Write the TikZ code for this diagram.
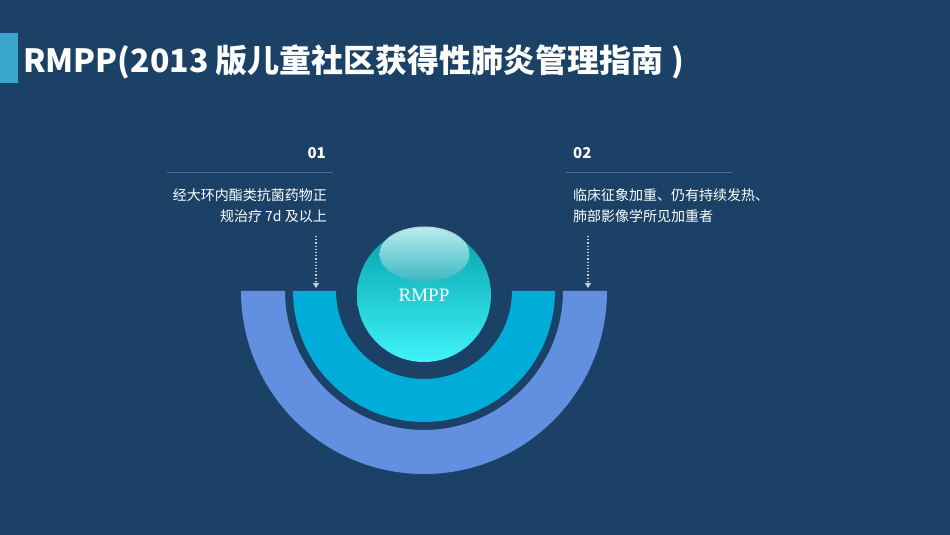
\documentclass[tikz,border=0pt]{standalone}
\usepackage{fontspec}
\setmainfont{Noto Sans CJK SC}
\newfontfamily\ballfont{Liberation Serif}
\usetikzlibrary{arrows.meta,positioning}
\definecolor{BgBlue}{RGB}{27,66,102}
\definecolor{BarBlue}{RGB}{58,168,204}
\definecolor{OuterRing}{RGB}{99,143,225}
\definecolor{InnerRing}{RGB}{0,172,216}
\definecolor{RuleGray}{RGB}{80,112,146}
\definecolor{ArrowGray}{RGB}{200,210,220}
\definecolor{BallTop}{RGB}{4,160,170}
\definecolor{BallBottom}{RGB}{64,244,250}

\begin{document}
\begin{tikzpicture}[x=1pt,y=1pt,
  num/.style={font=\fontsize{15}{18}\selectfont\bfseries,text=white,inner sep=0pt},
  note/.style={font=\fontsize{14}{21}\selectfont,text=white,inner sep=0pt},
  rule/.style={draw=RuleGray,line width=0.8pt},
  down/.style={-{Triangle[width=6pt,length=5pt]},dotted,line width=1.2pt,ArrowGray},
]
\fill[BgBlue] (0,0) rectangle (950,535);
\useasboundingbox (0,0) rectangle (950,535);
\fill[BarBlue] (0,452) rectangle (18,502);
\node[anchor=west,inner sep=0pt,text=white,font=\fontsize{32}{38}\selectfont\bfseries] (title) at (23,473)
  {RMPP(2013 版儿童社区获得性肺炎管理指南 )};
% rings
\fill[OuterRing] (241,244) arc[start angle=180,end angle=360,radius=183]
  -- (563,244) arc[start angle=0,end angle=-180,radius=139] -- cycle;
\fill[InnerRing] (293,244) arc[start angle=180,end angle=360,radius=131]
  -- (512,244) arc[start angle=0,end angle=-180,radius=88] -- cycle;
% ball
\node[circle,minimum size=134pt,inner sep=0pt,top color=BallTop,bottom color=BallBottom,
      text=white,font=\ballfont\fontsize{19}{22}\selectfont] (ball) at (424,240) {\raisebox{-6pt}{RMPP}};
\shade[top color=white!92!cyan,bottom color=BallTop!75!white,opacity=0.8]
  (424.5,281) ellipse[x radius=45,y radius=27.5];
% left item
\node[num,anchor=east] (n1) at (326,382) {01};
\draw[rule] (167,363) coordinate (r1a) -- (333,363) coordinate (r1b);
\node[note,anchor=east,align=right] (t1) at (327,329.5) {经大环内酯类抗菌药物正\\规治疗 7d 及以上};
\coordinate (a1s) at (316,299);
\coordinate (a1e) at (316,247);
\draw[down] (a1s) -- (a1e);
% right item
\node[num,anchor=west] (n2) at (573,382) {02};
\draw[rule] (566,363) coordinate (r2a) -- (732,363) coordinate (r2b);
\node[note,anchor=west,align=left] (t2) at (573,329.5) {临床征象加重、仍有持续发热、\\肺部影像学所见加重者};
\coordinate (a2s) at (588,299);
\coordinate (a2e) at (588,247);
\draw[down] (a2s) -- (a2e);
\end{tikzpicture}
\end{document}
